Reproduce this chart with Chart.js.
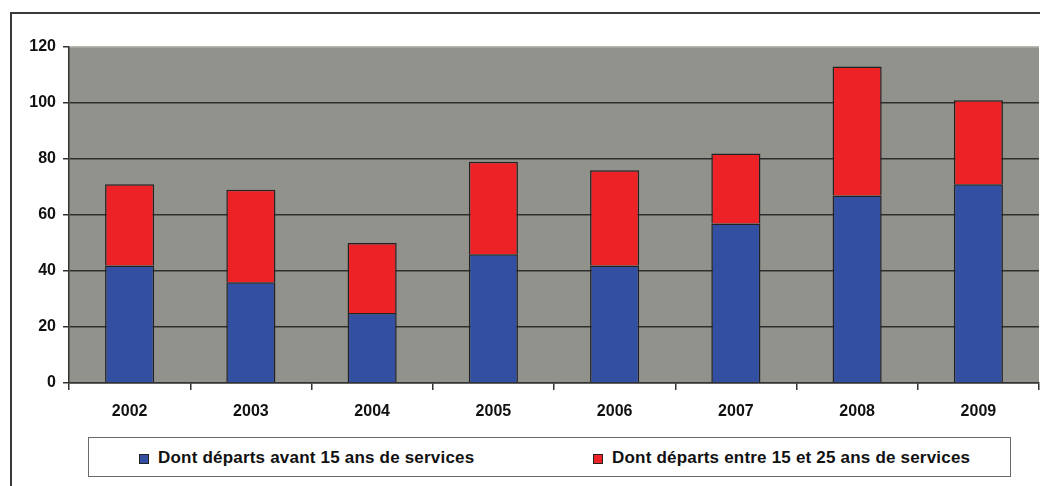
<!DOCTYPE html>
<html>
<head>
<meta charset="utf-8">
<script src="https://cdn.jsdelivr.net/npm/chart.js@4"></script>
<style>
  body { margin: 0; background: #fff; }
  #wrap { position: relative; width: 1040px; height: 486px; overflow: hidden; }
  #frame { position: absolute; left: 10px; top: 12px; width: 1100px; height: 600px;
           border-left: 2px solid #3a3a3a; border-top: 2px solid #3a3a3a; }
  #chart { position: absolute; left: 0; top: 0; }
  #legend { position: absolute; left: 88px; top: 437px; width: 921px; height: 38px;
            border: 1px solid #6a6a6a; background: #fff; }
  .item { position: absolute; top: 0; height: 38px;
          font: bold 17px "Liberation Sans", Arial, sans-serif; line-height: 40px;
          letter-spacing: 0.2px; color: #111; white-space: nowrap; }
  .sw { display: inline-block; width: 8px; height: 8px; border: 1px solid #222;
        margin-right: 9px; vertical-align: -1px; }
</style>
</head>
<body>
<div id="wrap">
  <div id="frame"></div>
  <canvas id="chart" width="1040" height="486"></canvas>
  <div id="legend"></div>
</div>
<script>
var years = ["2002", "2003", "2004", "2005", "2006", "2007", "2008", "2009"];
var avant15 = [42, 36, 25, 46, 42, 57, 67, 71];
var entre15et25 = [29, 33, 25, 33, 34, 25, 46, 30];
var seriesNames = ["Dont départs avant 15 ans de services", "Dont départs entre 15 et 25 ans de services"];
var seriesColors = ["#334fa2", "#ec2227"];
var yTicks = [0, 20, 40, 60, 80, 100, 120];

// grey background behind the plot area
var plotBg = {
    id: 'plotBg',
    beforeDraw: function(chart) {
        var a = chart.chartArea, c = chart.ctx;
        c.save();
        c.fillStyle = '#92928c';
        c.fillRect(a.left, a.top, a.right - a.left, a.bottom - a.top);
        c.restore();
    }
};

var ctx = document.getElementById('chart').getContext('2d');
var chart = new Chart(ctx, {
    type: 'bar',
    data: {
        labels: years,
        datasets: [{
            label: seriesNames[0],
            data: avant15,
            backgroundColor: seriesColors[0],
            borderColor: '#222',
            borderWidth: 1.5
        }, {
            label: seriesNames[1],
            data: entre15et25,
            backgroundColor: seriesColors[1],
            borderColor: '#222',
            borderWidth: 1.5
        }]
    },
    options: {
        responsive: false,
        animation: false,
        layout: { padding: { left: 0, top: 47, right: 1, bottom: 0 } },
        datasets: { bar: { barPercentage: 0.405, categoryPercentage: 1 } },
        plugins: { legend: { display: false }, tooltip: { enabled: false } },
        scales: {
            x: {
                stacked: true,
                afterFit: function(s) { s.height = 103; },
                border: { color: '#333', width: 1.5 },
                grid: { offset: true, drawOnChartArea: false, tickLength: 7, color: '#333', lineWidth: 1.5 },
                ticks: { color: '#111', padding: 12, font: { family: 'Liberation Sans', weight: 'bold', size: 16 } }
            },
            y: {
                stacked: true,
                min: 0,
                max: 120,
                afterFit: function(s) { s.width = 69; },
                afterBuildTicks: function(s) { s.ticks = yTicks.map(function(v) { return { value: v }; }); },
                border: { color: '#333', width: 1.5 },
                grid: {
                    tickLength: 6,
                    lineWidth: 1.5,
                    tickColor: '#333',
                    color: function(c) { return c.tick && c.tick.value === 120 ? '#b8b8b4' : '#2e2e2e'; }
                },
                ticks: { color: '#111', padding: 7, font: { family: 'Liberation Sans', weight: 'bold', size: 16 } }
            }
        }
    },
    plugins: [plotBg]
});

// legend drawn as html, from the series arrays
var legendLeft = [50, 504];
var leg = document.getElementById('legend');
for (var i = 0; i < seriesNames.length; i++) {
    var d = document.createElement('div');
    d.className = 'item';
    d.style.left = legendLeft[i] + 'px';
    d.innerHTML = "<span class='sw' style='background:" + seriesColors[i] + "'></span>" + seriesNames[i];
    leg.appendChild(d);
}
</script>
</body>
</html>
